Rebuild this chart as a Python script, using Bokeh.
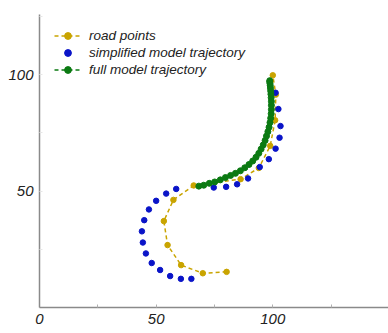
from bokeh.plotting import figure
from bokeh.models import FixedTicker, Range1d, Legend, LegendItem
from bokeh.embed import file_html
from bokeh.resources import INLINE

# road points (yellow)
road_x = [80.2, 70.0, 60.7, 54.9, 53.3, 57.4, 66.1, 86.2, 94.0, 98.9, 101.0, 101.3, 100.0]
road_y = [15.3, 14.7, 18.2, 26.8, 37.1, 46.2, 52.4, 55.1, 59.9, 69.4, 80.4, 91.4, 99.7]

# simplified model trajectory (blue)
simp_x = [65.1, 60.6, 56.0, 51.7, 48.1, 45.6, 44.3, 43.9, 44.9, 46.9, 50.0, 54.3, 58.6,
          74.7, 80.0, 84.7, 89.4, 94.4, 98.3, 101.2, 102.9, 103.3, 102.4, 101.2]
simp_y = [12.3, 12.3, 13.5, 16.1, 19.1, 23.2, 27.9, 32.7, 37.5, 42.1, 45.8, 48.9, 50.9,
          51.5, 51.8, 52.9, 55.4, 60.3, 63.7, 68.2, 72.9, 77.9, 85.2, 92.2]

# full model trajectory (green)
full_x = [68.3, 70.4, 72.8, 75.1, 77.5, 79.7, 81.9, 84.0, 86.1, 88.0, 89.8, 91.4, 92.8,
          94.0, 95.0, 95.9, 96.7, 97.3, 97.9, 98.4, 98.8, 99.1, 99.3, 99.4, 99.4, 99.4,
          99.3, 99.2, 99.1, 99.0, 98.9, 98.8, 98.7, 98.7]
full_y = [52.1, 52.5, 53.3, 53.9, 54.8, 55.8, 56.7, 57.6, 58.7, 60.0, 61.4, 62.9, 64.5,
          66.2, 68.0, 69.8, 71.7, 73.6, 75.5, 77.4, 79.4, 81.3, 83.2, 85.0, 86.8, 88.5,
          90.1, 91.6, 93.0, 94.2, 95.3, 96.2, 96.9, 97.4]

x_ticks = [0, 25, 50, 75, 100, 125]
x_labels = {0: "0", 25: "", 50: "50", 75: "", 100: "100", 125: ""}
y_ticks = [25, 50, 75, 100, 125]
y_labels = {25: "", 50: "50", 75: "", 100: "100", 125: ""}

YELLOW = "#c9a400"
BLUE = "#0a14c8"
GREEN = "#0b7a12"

p = figure(width=388, height=333, output_backend="svg", toolbar_location=None,
           x_range=Range1d(0, 149.6), y_range=Range1d(0, 125.8),
           min_border_left=39, min_border_right=0, min_border_top=14, min_border_bottom=26)
p.outline_line_color = None
p.xgrid.visible = False
p.ygrid.visible = False
p.background_fill_color = "white"
p.border_fill_color = "white"

r_road_line = p.line(road_x, road_y, line_color=YELLOW, line_width=1.5, line_dash="4 3")
r_road_pts = p.scatter(road_x, road_y, size=5.5, fill_color=YELLOW, line_color=YELLOW)
r_simp = p.scatter(simp_x, simp_y, size=5.5, fill_color=BLUE, line_color=BLUE)
r_full_line = p.line(full_x, full_y, line_color=GREEN, line_width=1.5, line_dash="4 3")
r_full_pts = p.scatter(full_x, full_y, size=6, fill_color=GREEN, line_color=GREEN)

for ax, ticks, labels in ((p.xaxis[0], x_ticks, x_labels), (p.yaxis[0], y_ticks, y_labels)):
    ax.ticker = FixedTicker(ticks=ticks)
    ax.major_label_overrides = labels
    ax.minor_tick_line_color = None
    ax.axis_line_color = "#8a8a8a"
    ax.axis_line_width = 1.5
    ax.major_tick_line_color = "#b0b0b0"
    ax.major_tick_in = 3
    ax.major_tick_out = 0
    ax.major_label_text_font = "Liberation Sans"
    ax.major_label_text_font_style = "italic"
    ax.major_label_text_font_size = "15px"
    ax.major_label_text_color = "#222222"
    ax.major_label_standoff = 6
p.yaxis[0].major_tick_line_color = "#e6e6e6"

legend = Legend(items=[
    LegendItem(label="road points", renderers=[r_road_line, r_road_pts]),
    LegendItem(label="simplified model trajectory", renderers=[r_simp]),
    LegendItem(label="full model trajectory", renderers=[r_full_line, r_full_pts]),
], location=(15, 229))
legend.label_text_font = "Liberation Sans"
legend.label_text_font_style = "italic"
legend.label_text_font_size = "13.5px"
legend.label_text_color = "#222222"
legend.glyph_width = 27
legend.glyph_height = 17
legend.label_height = 17
legend.label_standoff = 8
legend.spacing = 0
legend.padding = 4
legend.border_line_color = None
legend.background_fill_color = "white"
legend.background_fill_alpha = 1.0
p.add_layout(legend)

open("out.html", "w").write(file_html(p, INLINE))
